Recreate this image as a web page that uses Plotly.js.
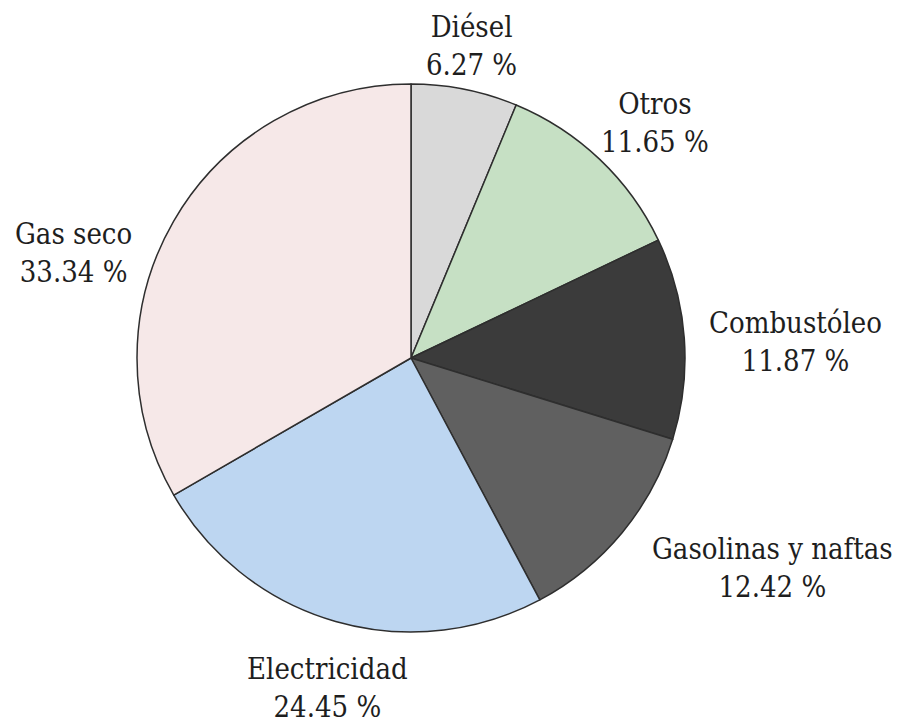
<!DOCTYPE html>
<html>
<head>
<meta charset="utf-8">
<script src="https://cdn.plot.ly/plotly-3.0.1.min.js"></script>
<style>
  html, body { margin: 0; padding: 0; background: #ffffff; }
  #chart { width: 903px; height: 727px; }
</style>
</head>
<body>
<div id="chart"></div>
<script>
// Energy consumption shares by fuel (percent), clockwise from 12 o'clock
const categories = ["Diésel", "Otros", "Combustóleo", "Gasolinas y naftas", "Electricidad", "Gas seco"];
const shares = [6.27, 11.65, 11.87, 12.42, 24.45, 33.34];

// Slice fills, same order as the categories
const sliceColors = ["#d9d9d9", "#c6e0c4", "#3b3b3b", "#606060", "#bdd6f1", "#f6e8e8"];

// Label block centres in page pixels, one per category
const labelCentres = [
  [472, 46], [655, 123], [795, 342], [772, 568], [327, 688], [73, 253]
];

const W = 903, H = 727;
const margin = { l: 137, r: 218, t: 84, b: 95, pad: 0 };
const plotW = W - margin.l - margin.r;
const plotH = H - margin.t - margin.b;

const labelFont = { family: "DejaVu Serif Condensed, DejaVu Serif", size: 29, color: "#1e1e1e" };

const annotations = categories.map((name, i) => ({
  text: name + "<br>" + shares[i].toFixed(2) + " %",
  xref: "paper", yref: "paper",
  x: (labelCentres[i][0] - margin.l) / plotW,
  y: 1 - (labelCentres[i][1] - margin.t) / plotH,
  xanchor: "center", yanchor: "middle",
  align: "center",
  showarrow: false,
  font: labelFont
}));

const trace = {
  type: "pie",
  labels: categories,
  values: shares,
  sort: false,
  direction: "clockwise",
  rotation: 0,
  textinfo: "none",
  hoverinfo: "label+percent",
  marker: { colors: sliceColors, line: { color: "#2e2e2e", width: 1.5 } },
  domain: { x: [0, 1], y: [0, 1] }
};

const layout = {
  width: W, height: H,
  margin: margin,
  showlegend: false,
  font: labelFont,
  paper_bgcolor: "#ffffff",
  plot_bgcolor: "#ffffff",
  annotations: annotations
};

Plotly.newPlot("chart", [trace], layout, { displayModeBar: false, staticPlot: true });
</script>
</body>
</html>
